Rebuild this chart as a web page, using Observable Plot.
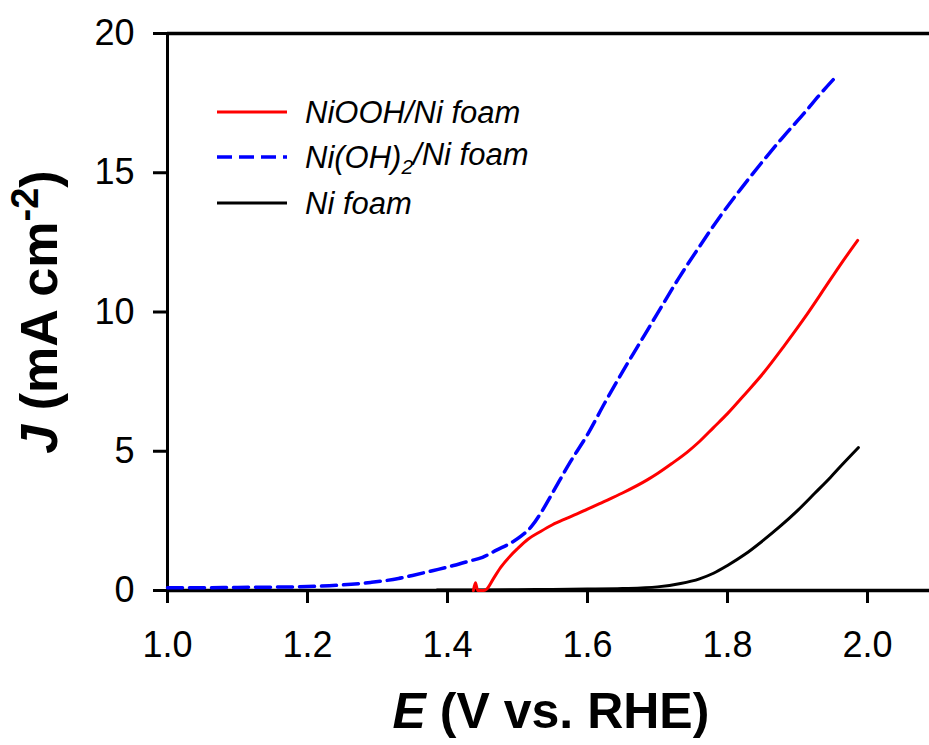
<!DOCTYPE html>
<html><head><meta charset="utf-8">
<script src="https://cdn.jsdelivr.net/npm/d3@7"></script>
<script src="https://cdn.jsdelivr.net/npm/@observablehq/plot@0.6"></script>
<style>
html,body{margin:0;padding:0;background:#fff;}
#chart{width:929px;height:745px;overflow:hidden;}
</style></head><body><div id="chart"></div>
<script>
const xTicks = [1.0, 1.2, 1.4, 1.6, 1.8, 2.0];
const yTicks = [0, 5, 10, 15, 20];
const legendLabels = ["NiOOH/Ni foam", "Ni(OH)2/Ni foam", "Ni foam"];

const niooh_E = [1.437, 1.440, 1.443, 1.452, 1.456, 1.465, 1.476, 1.49, 1.50, 1.515, 1.533, 1.55, 1.571, 1.60, 1.62, 1.65, 1.686, 1.70, 1.72, 1.743, 1.76, 1.78, 1.80, 1.825, 1.851, 1.88, 1.909, 1.94, 1.96, 1.986];
const niooh_J = [0.0, 0.28, 0.0, 0.0, 0.05, 0.4, 0.83, 1.25, 1.5, 1.84, 2.12, 2.36, 2.6, 2.92, 3.15, 3.5, 3.98, 4.2, 4.55, 4.98, 5.35, 5.85, 6.35, 7.05, 7.8, 8.75, 9.75, 10.9, 11.65, 12.57];

const nioh2_E = [1.00, 1.05, 1.10, 1.15, 1.20, 1.25, 1.29, 1.33, 1.35, 1.38, 1.40, 1.43, 1.45, 1.47, 1.49, 1.505, 1.52, 1.535, 1.55, 1.575, 1.60, 1.625, 1.65, 1.675, 1.70, 1.73, 1.76, 1.79, 1.82, 1.85, 1.88, 1.91, 1.93, 1.955];
const nioh2_J = [0.10, 0.10, 0.11, 0.12, 0.14, 0.20, 0.29, 0.43, 0.54, 0.72, 0.84, 1.05, 1.19, 1.45, 1.70, 1.95, 2.3, 2.85, 3.5, 4.6, 5.6, 6.75, 7.85, 8.9, 9.95, 11.2, 12.35, 13.45, 14.45, 15.4, 16.3, 17.15, 17.75, 18.45];

const nifoam_E = [1.385, 1.45, 1.50, 1.55, 1.60, 1.65, 1.70, 1.733, 1.76, 1.78, 1.80, 1.825, 1.851, 1.875, 1.90, 1.925, 1.947, 1.965, 1.987];
const nifoam_J = [0.02, 0.02, 0.03, 0.04, 0.05, 0.07, 0.13, 0.25, 0.42, 0.62, 0.9, 1.3, 1.8, 2.3, 2.87, 3.5, 4.06, 4.55, 5.13];

const toRows = (E, J) => E.map((e, i) => ({E: e, J: J[i]}));
const rowsRed = toRows(niooh_E, niooh_J);
const rowsBlue = toRows(nioh2_E, nioh2_J);
const rowsBlack = toRows(nifoam_E, nifoam_J);

const FONT = "'Liberation Sans', Arial, Helvetica, sans-serif";

const plot = Plot.plot({
  width: 929,
  height: 745,
  marginLeft: 167,
  marginRight: 0,
  marginTop: 33,
  marginBottom: 155,
  x: {type: "linear", domain: [1.0, 2.0886]},
  y: {type: "linear", domain: [0, 20]},
  style: {fontFamily: FONT, fontSize: "36px", color: "black", background: "white", overflow: "visible"},
  marks: [
    Plot.axisX({ticks: xTicks, tickFormat: d3.format(".1f"), tickSize: 13, tickPadding: 28, strokeWidth: 3, label: null, fontSize: 36}),
    Plot.axisY({ticks: yTicks, tickSize: 14, tickPadding: 19, strokeWidth: 3, label: null, fontSize: 36}),
    Plot.ruleY([0], {strokeWidth: 3.5}),
    Plot.ruleY([20], {strokeWidth: 3.5}),
    Plot.ruleX([1.0], {strokeWidth: 3}),
    Plot.line(rowsBlack, {x: "E", y: "J", stroke: "#000000", strokeWidth: 3, curve: "monotone-x"}),
    Plot.line(rowsRed, {x: "E", y: "J", stroke: "#ff0000", strokeWidth: 3, curve: "monotone-x"}),
    Plot.line(rowsBlue, {x: "E", y: "J", stroke: "#0000ff", strokeWidth: 3.5, strokeDasharray: "15,7", curve: "monotone-x"})
  ]
});
document.getElementById("chart").append(plot);

const svg = d3.select(plot);

// x axis label
const xl = svg.append("text")
  .attr("x", 551).attr("y", 728)
  .attr("text-anchor", "middle")
  .attr("font-family", FONT).attr("font-size", 50).attr("font-weight", "bold").attr("fill", "black");
xl.append("tspan").attr("font-style", "italic").text("E");
xl.append("tspan").text(" (V vs. RHE)");

// y axis label
const yl = svg.append("text")
  .attr("transform", "translate(57,312) rotate(-90)")
  .attr("text-anchor", "middle")
  .attr("font-family", FONT).attr("font-size", 52).attr("font-weight", "bold").attr("fill", "black");
yl.append("tspan").attr("font-style", "italic").text("J");
yl.append("tspan").text(" (mA cm");
yl.append("tspan").attr("font-size", 38).attr("dy", "-0.5em").text("-2");
yl.append("tspan").attr("dy", "0.36em").text(")");

// legend
const legendStyles = [
  {stroke: "#ff0000", dash: null, width: 3},
  {stroke: "#0000ff", dash: "15,7", width: 3.5},
  {stroke: "#000000", dash: null, width: 3}
];
const legendY = [112, 157, 203];
legendLabels.forEach((lab, i) => {
  const g = svg.append("g");
  g.append("line").attr("x1", 217).attr("x2", 287).attr("y1", legendY[i]).attr("y2", legendY[i])
    .attr("stroke", legendStyles[i].stroke).attr("stroke-width", legendStyles[i].width)
    .attr("stroke-dasharray", legendStyles[i].dash);
  const t = g.append("text").attr("x", 305).attr("y", legendY[i] + 11)
    .attr("text-anchor", "start")
    .attr("font-family", FONT).attr("font-size", 31).attr("font-style", "italic").attr("fill", "black");
  const m = lab.match(/^(.*\))(2)(.*)$/);
  if (m) {
    t.append("tspan").text(m[1]);
    t.append("tspan").attr("font-size", 21).attr("dy", "0.3em").text(m[2]);
    t.append("tspan").attr("dy", "-0.3em").text(m[3]);
  } else {
    t.text(lab);
  }
});
</script>
</body></html>
